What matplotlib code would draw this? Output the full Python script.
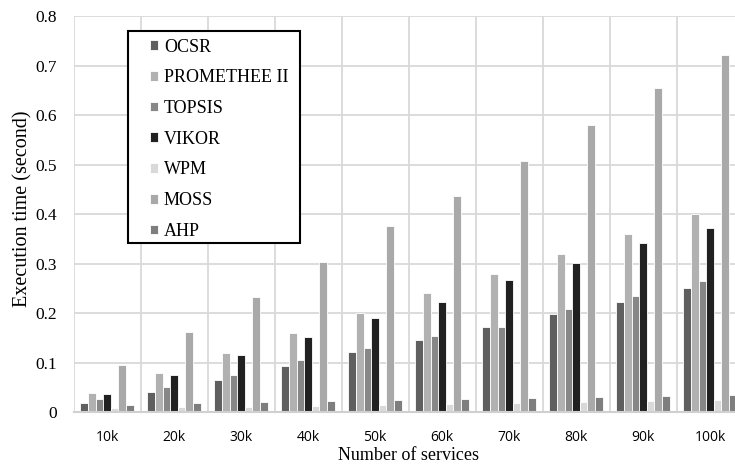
import matplotlib
matplotlib.use("Agg")
import matplotlib.pyplot as plt
from matplotlib.patches import Rectangle
from matplotlib.transforms import Affine2D
import numpy as np

categories = ["10k", "20k", "30k", "40k", "50k", "60k", "70k", "80k", "90k", "100k"]
series_names = ["OCSR", "PROMETHEE II", "TOPSIS", "VIKOR", "WPM", "MOSS", "AHP"]
ocsr = [0.019, 0.041, 0.065, 0.094, 0.122, 0.146, 0.172, 0.198, 0.222, 0.251]
promethee = [0.039, 0.079, 0.120, 0.160, 0.200, 0.240, 0.279, 0.320, 0.360, 0.400]
topsis = [0.027, 0.051, 0.075, 0.106, 0.130, 0.154, 0.172, 0.209, 0.235, 0.265]
vikor = [0.037, 0.075, 0.116, 0.152, 0.190, 0.223, 0.267, 0.301, 0.342, 0.372]
wpm = [0.009, 0.011, 0.011, 0.013, 0.015, 0.017, 0.019, 0.021, 0.023, 0.024]
moss = [0.096, 0.162, 0.233, 0.304, 0.376, 0.437, 0.508, 0.580, 0.655, 0.722]
ahp = [0.015, 0.019, 0.021, 0.023, 0.025, 0.027, 0.029, 0.031, 0.033, 0.035]
yticks = [0, 0.1, 0.2, 0.3, 0.4, 0.5, 0.6, 0.7, 0.8]
ytick_labels = ["0", "0.1", "0.2", "0.3", "0.4", "0.5", "0.6", "0.7", "0.8"]

series = [ocsr, promethee, topsis, vikor, wpm, moss, ahp]
colors = ["#5f5f5f", "#b1b1b1", "#878787", "#212121", "#d9d9d9", "#a9a9a9", "#7e7e7e"]

W, H = 735, 465
fig = plt.figure(figsize=(W / 100, H / 100), dpi=100)
x0, x1 = 73.5, 743.5
y0, y1 = 412.3, 16.0
ax = fig.add_axes([x0 / W, 1 - y0 / H, (x1 - x0) / W, (y0 - y1) / H])

n = len(series)
group_w = 0.8
bw = group_w / n
x = np.arange(len(categories))
for i, (vals, c, name) in enumerate(zip(series, colors, series_names)):
    ax.bar(x - group_w / 2 + bw * (i + 0.5), vals, width=bw, color=c,
           edgecolor="white", linewidth=0.6, label=name, zorder=3)

ax.set_xlim(-0.5, len(categories) - 0.5)
ax.set_ylim(0, 0.8)
ax.set_yticks(yticks)
ax.set_yticklabels(ytick_labels, fontfamily="Liberation Serif", fontsize=12.5)
ax.set_xticks(x)
ax.set_xticklabels(categories, fontfamily="Open Sans", fontsize=10)
ax.set_xticks(np.arange(len(categories) + 1) - 0.5, minor=True)
ax.tick_params(axis="both", which="both", length=0)
ax.tick_params(axis="y", pad=12)
ax.tick_params(axis="x", pad=13)

ax.grid(axis="y", which="major", color="#d9d9d9", linewidth=1.3, zorder=0)
ax.grid(axis="x", which="minor", color="#d9d9d9", linewidth=1.3, zorder=0)
ax.grid(axis="x", which="major", visible=False)
for s in ["top", "right", "left"]:
    ax.spines[s].set_visible(False)
ax.spines["bottom"].set_color("#d0d0d0")
ax.spines["bottom"].set_linewidth(1.5)
ax.spines["bottom"].set_zorder(4)

ax.set_xlabel("Number of services", fontfamily="Liberation Serif", fontsize=13, labelpad=1)
ax.set_ylabel("Execution time (second)", fontfamily="Liberation Serif", fontsize=14.5, labelpad=2)
ax.yaxis.set_label_coords(-(x0 - 32) / (x1 - x0), (y0 - 209) / (y0 - y1))

# legend frame drawn in pixel coordinates (top-left origin)
pix = Affine2D().scale(1 / W, -1 / H).translate(0, 1) + fig.transFigure
frame = Rectangle((128.5, 31.5), 300.0 - 128.5, 243.0 - 31.5, transform=pix,
                  facecolor="white", edgecolor="black", linewidth=1.5, zorder=5)
fig.patches.append(frame)

lx, ly = 149.5, 38.5
leg = fig.legend(*ax.get_legend_handles_labels(), loc="upper left",
                 bbox_to_anchor=(lx / W, 1 - ly / H),
                 prop={"family": "Liberation Serif", "size": 13},
                 frameon=False,
                 handlelength=0.45, handleheight=0.45, handletextpad=0.35,
                 labelspacing=0.76, borderpad=0, borderaxespad=0)
leg.set_zorder(6)

fig.savefig("out.png", dpi=100)
